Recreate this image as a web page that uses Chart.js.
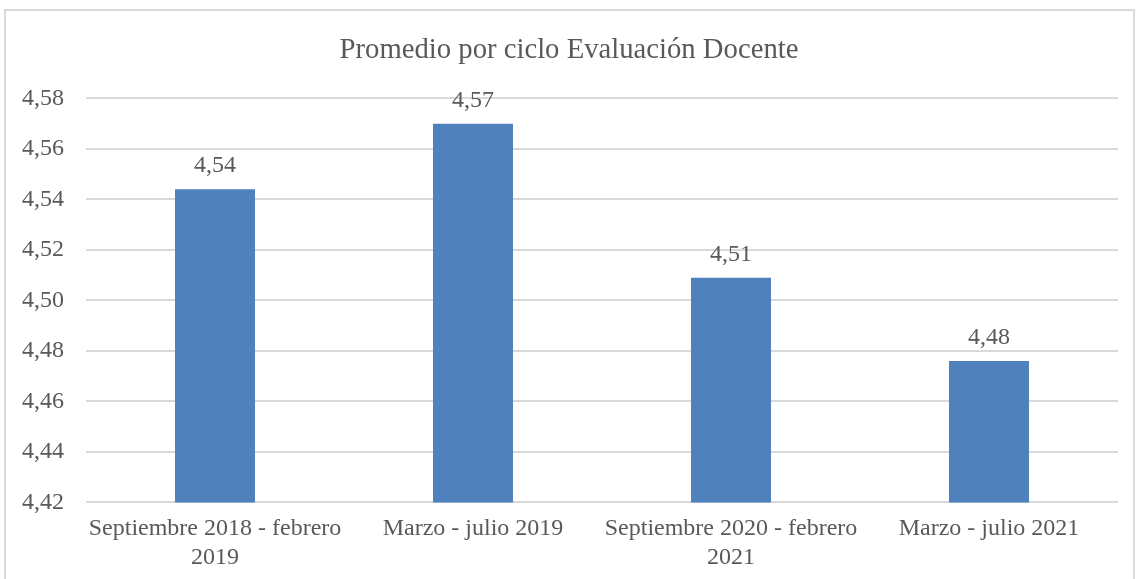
<!DOCTYPE html>
<html>
<head>
<meta charset="utf-8">
<script src="https://cdn.jsdelivr.net/npm/chart.js@4"></script>
<style>
  body { margin: 0; background: #fff; }
  #box {
    position: absolute; left: 4px; top: 9px;
    width: 1131px; height: 580px;
    border: 2px solid #d9d9d9; border-bottom: none;
    box-sizing: border-box;
  }
  canvas { display: block; }
</style>
</head>
<body>
<div id="box"><canvas id="grafico" width="1127" height="578"></canvas></div>
<script>
// datos del gráfico
const ciclos = [
  ["Septiembre 2018 - febrero", "2019"],
  "Marzo - julio 2019",
  ["Septiembre 2020 - febrero", "2021"],
  "Marzo - julio 2021"
];
const promedios = [4.544, 4.570, 4.509, 4.476];
const etiquetas = ["4,54", "4,57", "4,51", "4,48"];

const fuente = "'Liberation Serif', 'Times New Roman', serif";
const gris = "#595959";

// escribe el valor encima de cada barra
const valoresBarras = {
  id: "valoresBarras",
  afterDatasetsDraw(chart) {
    const ctx = chart.ctx;
    const meta = chart.getDatasetMeta(0);
    ctx.save();
    ctx.font = "24px " + fuente;
    ctx.fillStyle = gris;
    ctx.textAlign = "center";
    ctx.textBaseline = "alphabetic";
    meta.data.forEach((bar, i) => {
      ctx.fillText(etiquetas[i], bar.x, bar.y - 17);
    });
    ctx.restore();
  }
};

const ctx = document.getElementById("grafico").getContext("2d");

new Chart(ctx, {
  type: "bar",
  data: {
    labels: ciclos,
    datasets: [{
      label: "Promedio",
      data: promedios,
      backgroundColor: "#4f81bd",
      borderWidth: 0,
      categoryPercentage: 1,
      barPercentage: 0.31
    }]
  },
  options: {
    responsive: false,
    animation: false,
    layout: { padding: { left: 14, right: 15, top: 10, bottom: 5 } },
    plugins: {
      legend: { display: false },
      tooltip: { enabled: false },
      title: {
        display: true,
        text: "Promedio por ciclo Evaluación Docente",
        color: gris,
        font: { family: fuente, size: 28.7, weight: "normal" },
        padding: { top: 12, bottom: 31 }
      }
    },
    scales: {
      y: {
        min: 4.42,
        max: 4.58,
        ticks: {
          stepSize: 0.02,
          color: gris,
          font: { family: fuente, size: 24 },
          padding: 22,
          callback: (v) => v.toFixed(2).replace(".", ",")
        },
        grid: { color: "#d9d9d9", lineWidth: 2, drawTicks: false },
        border: { display: false },
        afterFit(scale) {
          scale.width = 66;
        }
      },
      x: {
        ticks: {
          color: gris,
          font: { family: fuente, size: 24, lineHeight: 1.2 },
          padding: 12,
          maxRotation: 0,
          autoSkip: false
        },
        grid: { display: false, drawTicks: false },
        border: { display: false },
        // las etiquetas caben en su categoría, sin margen extra
        afterFit(scale) {
          scale.paddingLeft = 0;
          scale.paddingRight = 0;
        }
      }
    }
  },
  plugins: [valoresBarras]
});
</script>
</body>
</html>
